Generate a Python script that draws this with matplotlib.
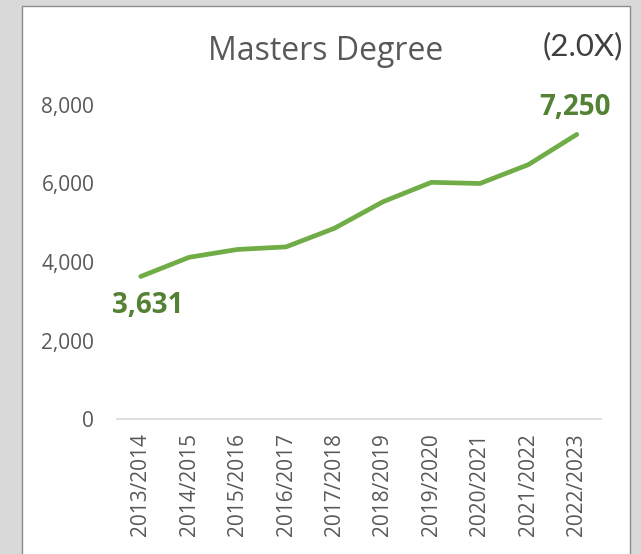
import matplotlib
matplotlib.use("Agg")
import matplotlib.pyplot as plt
from matplotlib.patches import Rectangle
from matplotlib.ticker import FuncFormatter

categories = ["2013/2014", "2014/2015", "2015/2016", "2016/2017", "2017/2018",
              "2018/2019", "2019/2020", "2020/2021", "2021/2022", "2022/2023"]
values = [3631, 4120, 4320, 4385, 4860, 5535, 6030, 6000, 6480, 7250]
yticks = [0, 2000, 4000, 6000, 8000]
title = "Masters Degree"
growth = "(2.0X)"

W, H = 641, 554
fig = plt.figure(figsize=(W / 100, H / 100), dpi=100)
fig.patch.set_facecolor("#d9d9d9")
fig.patches.append(Rectangle((22 / W, -0.05), (630 - 22) / W, 1.05 - 6 / H,
                             transform=fig.transFigure, facecolor="white",
                             edgecolor="#8c8c8c", linewidth=1.0, zorder=-10))

font = "Open Sans"
grey = "#595959"

ax = fig.add_axes([116.5 / W, (H - 419) / H, 484.5 / W, (419 - 105) / H])
ax.set_facecolor("none")
x = list(range(len(categories)))
ax.plot(x, values, color="#70ad47", linewidth=3.4, solid_capstyle="round", solid_joinstyle="round")
ax.set_xlim(-0.5, len(categories) - 0.5)
ax.set_ylim(0, 8000)
ax.set_yticks(yticks)
ax.yaxis.set_major_formatter(FuncFormatter(lambda v, p: f"{int(v):,}"))
ax.set_xticks(x)
ax.set_xticklabels(categories, rotation=90)
for s in ["top", "right", "left"]:
    ax.spines[s].set_visible(False)
ax.spines["bottom"].set_color("#d9d9d9")
ax.spines["bottom"].set_linewidth(1.2)
ax.tick_params(axis="both", length=0, labelsize=15, labelcolor=grey)
ax.tick_params(axis="y", pad=16)
ax.tick_params(axis="x", pad=10)
for lab in ax.get_xticklabels() + ax.get_yticklabels():
    lab.set_fontfamily(font)

ax.annotate(f"{values[0]:,}", (x[0], values[0]), xytext=(5, -21), textcoords="offset points",
            ha="center", va="center", fontsize=20, fontweight="bold", color="#548235",
            family=font, annotation_clip=False)
ax.annotate(f"{values[-1]:,}", (x[-1], values[-1]), xytext=(-1, 19.5), textcoords="offset points",
            ha="center", va="center", fontsize=20, fontweight="bold", color="#548235",
            family=font, annotation_clip=False)

fig.text(326 / W, 1 - 51 / H, title, ha="center", va="center", fontsize=23,
         color=grey, family=font)
fig.text(583 / W, 1 - 46 / H, growth, ha="center", va="center", fontsize=22.5,
         color="#404040", family="Lato")

fig.savefig("out.png", dpi=100, facecolor=fig.get_facecolor())
